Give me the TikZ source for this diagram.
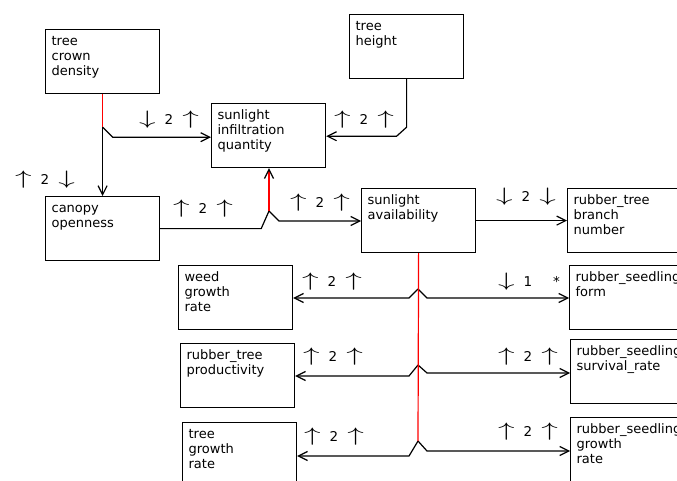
\documentclass[tikz,border=0pt]{standalone}
\usepackage{fontspec}
\usepackage{graphicx}
\setmainfont{DejaVu Sans}
\usetikzlibrary{arrows.meta}
\newcommand{\ua}{\scalebox{2.3}[1.35]{$\uparrow$}}
\newcommand{\da}{\scalebox{2.3}[1.35]{$\downarrow$}}
\newcommand{\gp}{\hspace{9pt}}
\tikzset{
  box/.style={draw, line width=1.2pt, anchor=north west, text width=102pt, align=left,
    text height=14pt, text depth=46pt, inner xsep=6pt, inner ysep=2pt,
    font=\fontsize{13}{15}\selectfont},
  link/.style={line width=1.2pt, -{Straight Barb[length=9pt,width=9pt]}},
  plain/.style={line width=1.2pt},
  redlink/.style={line width=1.2pt, red},
  sign/.style={inner sep=0pt, font=\fontsize{13.5}{15}\selectfont}
}
\begin{document}
\begin{tikzpicture}[x=1pt,y=-1pt]
  \useasboundingbox (0,0) rectangle (677,481);
  \clip (0,0) rectangle (677,481);
  \node[box] (tcd) at (45,29) {tree\\crown\\density};
  \node[box] (th) at (349,14) {tree\\height};
  \node[box] (sin) at (211,103) {sunlight\\infiltration\\quantity};
  \node[box] (co) at (45,196) {canopy\\openness};
  \node[box] (sa) at (361,188) {sunlight\\availability};
  \node[box] (rtb) at (567,188) {rubber\_tree\\branch\\number};
  \node[box] (wgr) at (178,265) {weed\\growth\\rate};
  \node[box] (rsf) at (569,265) {rubber\_seedling\\form};
  \node[box] (rtp) at (180,343) {rubber\_tree\\productivity};
  \node[box] (rss) at (570,339) {rubber\_seedling\\survival\_rate};
  \node[box] (tgr) at (182,422) {tree\\growth\\rate};
  \node[box] (rsg) at (570,417) {rubber\_seedling\\growth\\rate};
  \node[sign] (s1) at (169,120) {\da\gp2\gp\ua};
  \node[sign] (s2) at (45,180) {\ua\gp2\gp\da};
  \node[sign] (s3) at (364,120) {\ua\gp2\gp\ua};
  \node[sign] (s4) at (203,209) {\ua\gp2\gp\ua};
  \node[sign] (s5) at (320,203) {\ua\gp2\gp\ua};
  \node[sign] (s6) at (526,197) {\da\gp2\gp\da};
  \node[sign] (s7) at (332,282) {\ua\gp2\gp\ua};
  \node[sign] (s8) at (529,282) {\da\gp1\gp\hspace{12pt}*};
  \node[sign] (s9) at (333,357) {\ua\gp2\gp\ua};
  \node[sign] (s10) at (528,357) {\ua\gp2\gp\ua};
  \node[sign] (s11) at (334,437) {\ua\gp2\gp\ua};
  \node[sign] (s12) at (528,432) {\ua\gp2\gp\ua};
  \coordinate (j1) at ([yshift=-33pt]tcd.south);
  \coordinate (j2) at (269,211);
  \coordinate (t1) at (418,289);
  \coordinate (t2) at (418,365);
  \coordinate (t3) at (418,441);
  \draw[link] (j1) -- (co.north);
  \draw[link] (j1) -- ++(10,10) coordinate (k1) -- (k1 -| sin.west);
  \draw[link] (th.south) -- ++(0,48) -- ++(-10,9) coordinate (k2) -- (k2 -| sin.east);
  \draw[plain] (co.east) -- ++(101,0) -- (j2);
  \draw[link] (j2) -- ++(10,10) coordinate (k3) -- (k3 -| sa.west);
  \draw[link] (sa.east) -- (rtb.west);
  \draw[link] (t1) -- ++(-9,9) coordinate (a1) -- (a1 -| wgr.east);
  \draw[link] (t1) -- ++(9,9) coordinate (b1) -- (b1 -| rsf.west);
  \draw[link] (t2) -- ++(-9,11) coordinate (a2) -- (a2 -| rtp.east);
  \draw[link] (t2) -- ++(9,8) coordinate (b2) -- (b2 -| rss.west);
  \draw[link] (t3) -- ++(-9,15) coordinate (a3) -- (a3 -| tgr.east);
  \draw[link] (t3) -- ++(9,10) coordinate (b3) -- (b3 -| rsg.west);
  \draw[redlink] (tcd.south) -- (j1);
  \draw[redlink, -{Straight Barb[length=9pt,width=9pt,color=black]}] (j2) -- (j2 |- sin.south);
  \draw[redlink] (sa.south) -- (t3);
\end{tikzpicture}
\end{document}
